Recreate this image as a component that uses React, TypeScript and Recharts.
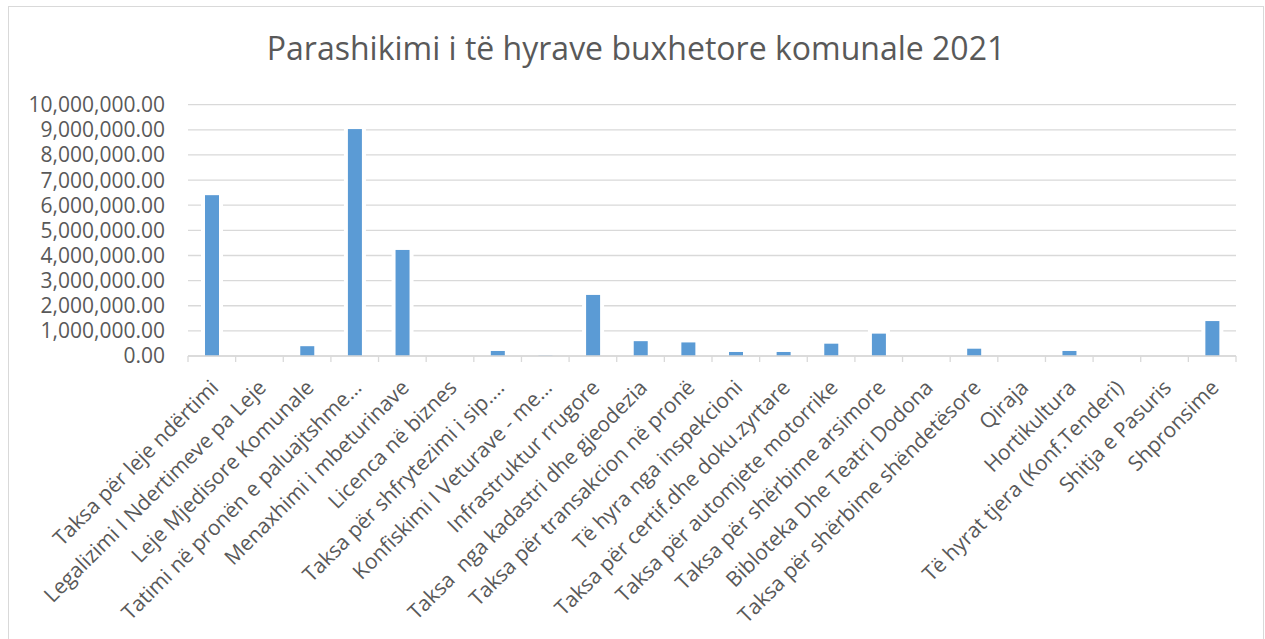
import React from "react";
import { BarChart, Bar, XAxis, YAxis, CartesianGrid } from "recharts";

const categories: string[] = [
  "Taksa për leje ndërtimi",
  "Legalizimi I Ndertimeve pa Leje",
  "Leje Mjedisore Komunale",
  "Tatimi në pronën e paluajtshme…",
  "Menaxhimi i mbeturinave",
  "Licenca në biznes",
  "Taksa për shfrytezimi i sip.…",
  "Konfiskimi I Veturave - me…",
  "Infrastruktur rrugore",
  "Taksa  nga kadastri dhe gjeodezia",
  "Taksa për transakcion në pronë",
  "Të hyra nga inspekcioni",
  "Taksa për certif.dhe doku.zyrtare",
  "Taksa për automjete motorrike",
  "Taksa për shërbime arsimore",
  "Bibloteka Dhe Teatri Dodona",
  "Taksa për shërbime shëndetësore",
  "Qiraja",
  "Hortikultura",
  "Të hyrat tjera (Konf.Tenderi)",
  "Shitja e Pasuris",
  "Shpronsime",
];

const values: number[] = [
  6400000, 0, 390000, 9030000, 4220000, 0, 200000, 15000, 2430000, 590000,
  540000, 160000, 160000, 490000, 890000, 0, 290000, 0, 200000, 0, 0, 1390000,
];

const yTicks: number[] = [
  0, 1000000, 2000000, 3000000, 4000000, 5000000, 6000000, 7000000, 8000000,
  9000000, 10000000,
];

const title = "Parashikimi i të hyrave buxhetore komunale 2021";

const data = categories.map((name, i) => ({ name, value: values[i] }));

const TEXT = "#595959";
const GRID = "#d9d9d9";
const BAR = "#5B9BD5";
const FONT = "'Open Sans', sans-serif";

const fmt = (v: number) =>
  v.toLocaleString("en-US", { minimumFractionDigits: 2, maximumFractionDigits: 2 });

const BarShape = (props: any) => {
  const { x, y, width, height } = props;
  if (!height || height <= 0) return null;
  const pad = 4;
  return (
    <g>
      <rect x={x - pad} y={y - pad} width={width + pad * 2} height={height + pad - 1} fill="#ffffff" />
      <rect x={x} y={y} width={width} height={height} fill={BAR} />
    </g>
  );
};

const XTick = (props: any) => {
  const { x, y, payload, index } = props;
  const off = payload && payload.offset ? payload.offset : 0;
  const ax = x + 8;
  const ay = y + 33;
  const last = index === categories.length - 1;
  return (
    <g>
      <line x1={x - off} y1={y} x2={x - off} y2={y + 6} stroke={GRID} strokeWidth={1.3} />
      {last && (
        <line x1={x + off} y1={y} x2={x + off} y2={y + 6} stroke={GRID} strokeWidth={1.3} />
      )}
      <text
        x={ax}
        y={ay}
        transform={`rotate(-45, ${ax}, ${ay})`}
        textAnchor="end"
        fill={TEXT}
        fontSize={21}
        fontFamily={FONT}
        style={{ whiteSpace: "pre" }}
      >
        {payload.value}
      </text>
    </g>
  );
};

export default function App() {
  return (
    <div
      style={{
        position: "absolute",
        left: 8,
        top: 6,
        width: 1256,
        height: 640,
        border: `1px solid ${GRID}`,
        boxSizing: "border-box",
        background: "#fff",
      }}
    >
      <svg width={1254} height={80} style={{ position: "absolute", left: 0, top: 0 }}>
        <text
          x={627}
          y={53}
          textAnchor="middle"
          fill={TEXT}
          fontSize={32}
          fontFamily={FONT}
        >
          {title}
        </text>
      </svg>
      <div style={{ position: "absolute", left: 0, top: 0 }}>
        <BarChart
          width={1254}
          height={630}
          data={data}
          margin={{ top: 97.7, right: 27, left: 0, bottom: 0 }}
          barCategoryGap={0}
        >
          <CartesianGrid vertical={false} stroke={GRID} strokeWidth={1.3} />
          <XAxis
            dataKey="name"
            interval={0}
            height={281}
            tickSize={0}
            tickMargin={0}
            tickLine={false}
            axisLine={{ stroke: GRID, strokeWidth: 1.3 }}
            tick={<XTick />}
          />
          <YAxis
            width={179}
            domain={[0, 10000000]}
            ticks={yTicks}
            tickFormatter={fmt}
            axisLine={false}
            tickLine={false}
            tickSize={0}
            tickMargin={23}
            tick={{ fill: TEXT, fontSize: 21, fontFamily: FONT }}
            interval={0}
          />
          <Bar
            dataKey="value"
            barSize={14}
            fill={BAR}
            shape={<BarShape />}
            isAnimationActive={false}
          />
        </BarChart>
      </div>
    </div>
  );
}
